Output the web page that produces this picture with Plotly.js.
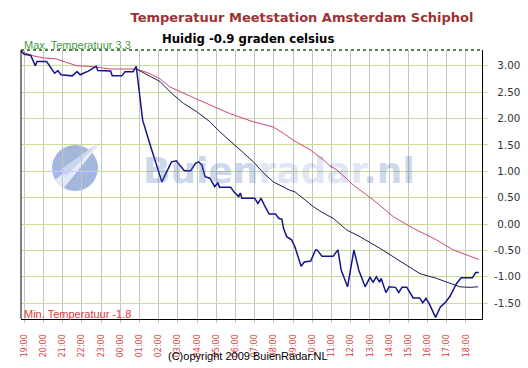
<!DOCTYPE html>
<html>
<head>
<meta charset="utf-8">
<script src="https://cdn.plot.ly/plotly-3.0.1.min.js"></script>
<style>
html,body{margin:0;padding:0;background:#fff;}
#chart{width:528px;height:368px;}
</style>
</head>
<body>
<div id="chart"></div>
<script>
// ---- data ----
const hourLabels = ["19:00","20:00","21:00","22:00","23:00","00:00","01:00","02:00","03:00","04:00","05:00","06:00",
                    "07:00","08:00","09:00","10:00","11:00","12:00","13:00","14:00","15:00","16:00","17:00","18:00"];
const yTickValues = [-1.5,-1.0,-0.5,0.0,0.5,1.0,1.5,2.0,2.5,3.0];

// measured temperature (jagged blue)
const tempTimes = ["18:50","19:00","19:20","19:35","19:40","20:10","20:35","20:45","20:55","21:30","21:45","21:55",
  "22:05","22:20","22:45","22:50","23:30","23:35","00:05","00:15","00:40","00:50","01:00","01:10","01:35","01:55",
  "02:10","02:25","02:40","02:55","03:20","03:40","03:55","04:05","04:15","04:25","04:40","04:55","05:05","05:10",
  "05:45","05:55","06:10","06:15","06:20","06:35","07:00","07:10","07:20","07:30","07:45","08:05","08:15","08:25",
  "08:30","08:40","08:55","09:05","09:15","09:25","09:35","09:55","10:10","10:15","10:30","11:05","11:20","11:30",
  "11:50","12:10","12:25","12:45","13:00","13:10","13:20","13:30","13:35","13:50","14:00","14:20","14:30","14:40",
  "14:55","15:15","15:35","15:45","15:55","16:05","16:25","16:40","16:55","17:10","17:20","17:30","17:45","18:20",
  "18:30","18:40"];
const tempValues = [3.28,3.22,3.20,3.00,3.08,3.08,2.86,2.91,2.83,2.81,2.89,2.83,
  2.86,2.90,2.99,2.91,2.90,2.81,2.81,2.89,2.89,2.99,2.48,1.97,1.47,1.09,
  0.80,0.99,1.18,1.20,1.01,1.01,1.15,1.18,1.12,0.90,0.87,0.71,0.78,0.70,
  0.70,0.61,0.52,0.59,0.49,0.49,0.49,0.39,0.49,0.36,0.19,0.19,0.11,0.09,
  -0.08,-0.24,-0.30,-0.42,-0.62,-0.80,-0.72,-0.70,-0.49,-0.49,-0.61,-0.61,-0.49,-0.87,
  -1.19,-0.49,-0.87,-1.19,-1.01,-1.10,-1.00,-1.10,-1.03,-1.30,-1.19,-1.20,-1.30,-1.20,
  -1.20,-1.40,-1.40,-1.49,-1.41,-1.51,-1.77,-1.57,-1.49,-1.37,-1.25,-1.13,-1.02,-1.02,
  -0.92,-0.92];

// smooth dark line
const smoothTimes = ["00:50","01:10","02:05","02:35","03:17","03:59","04:40","05:11","06:04","06:56","07:27","07:58",
  "08:50","09:06","10:03","10:23","10:55","11:05","11:47","12:29","13:31","14:55","15:36","16:28","17:10","17:41",
  "18:13","18:38"];
const smoothValues = [2.94,2.88,2.70,2.51,2.29,2.13,1.94,1.75,1.47,1.18,0.97,0.80,
  0.64,0.61,0.33,0.25,0.14,0.11,-0.11,-0.24,-0.46,-0.78,-0.94,-1.03,-1.13,-1.19,
  -1.20,-1.19];

// pink line
const pinkTimes = ["18:50","19:20","20:00","20:40","21:45","22:25","23:30","00:50","01:30","02:05","02:35","03:05",
  "03:40","04:40","05:40","06:55","07:58","08:30","09:00","09:53","10:34","10:55","11:16","12:08","13:10","14:13",
  "15:15","16:28","17:20","18:40"];
const pinkValues = [3.28,3.20,3.15,3.13,3.00,2.99,2.94,2.94,2.86,2.75,2.60,2.51,
  2.42,2.26,2.10,1.94,1.84,1.72,1.59,1.41,1.22,1.10,1.03,0.74,0.46,0.14,
  -0.08,-0.30,-0.49,-0.67];

const titleText = "Temperatuur Meetstation Amsterdam Schiphol";
const subTitleText = "Huidig -0.9 graden celsius";
const maxText = "Max. Temperatuur 3.3";
const minText = "Min. Temperatuur -1.8";
const copyrightText = "(C)opyright 2009 BuienRadar.NL";

// ---- helpers ----
function toHours(times){
  // hours since 19:00 of the first evening, rolling over midnight
  let out = [], off = 0, prev = -Infinity;
  times.forEach((t,i)=>{
    const p = t.split(":");
    let h = +p[0] + (+p[1])/60 - 19;
    if (i === 0 && h < -1) off = 24;
    h += off;
    if (h < prev) { off += 24; h += 24; }
    prev = h; out.push(h);
  });
  return out;
}
const tickVals = hourLabels.map((_,i)=>i);
const yTickText = yTickValues.map(v => (v<0 ? "-" : "\u00a0") + Math.abs(v).toFixed(2));

const traces = [
  {x: toHours(pinkTimes), y: pinkValues, type:"scatter", mode:"lines",
   line:{color:"#d2447a", width:1}, hoverinfo:"skip"},
  {x: toHours(smoothTimes), y: smoothValues, type:"scatter", mode:"lines",
   line:{color:"#1a1a55", width:1}, hoverinfo:"skip"},
  {x: toHours(tempTimes), y: tempValues, type:"scatter", mode:"lines",
   line:{color:"#14148c", width:1.5}, hoverinfo:"skip"}
];

// pixel helpers for layout decorations (plot area: x 21..482, y 50..319)
const PX = px => (px-21)/461, PY = py => (319-py)/269;

const layout = {
  width:528, height:368,
  margin:{l:21, r:46, t:50, b:49},
  paper_bgcolor:"#ffffff", plot_bgcolor:"#ffffff",
  showlegend:false,
  font:{family:"DejaVu Sans, Verdana, sans-serif"},
  title:{text:titleText, x:302/528, xanchor:"center", y:1-17.5/368, yanchor:"middle",
         font:{family:"DejaVu Sans", size:13, color:"#9e3232", weight:"bold"}},
  xaxis:{range:[-1/6, 23+5/6], tickvals:tickVals, ticktext:hourLabels, tickangle:-90,
         showgrid:true, gridcolor:"#c4c4c4", gridwidth:1, zeroline:false,
         showline:true, linecolor:"#000000", linewidth:1,
         ticks:"outside", ticklen:3, tickcolor:"#c4c4c4", ticklabelstandoff:8,
         tickfont:{family:"DejaVu Sans", size:8, color:"#e03c3c"}, fixedrange:true},
  yaxis:{side:"right", range:[-1.8,3.3], tickvals:yTickValues, ticktext:yTickText,
         showgrid:true, gridcolor:"#c9dc94", gridwidth:1, zeroline:false,
         showline:true, linecolor:"#000000", linewidth:1,
         ticks:"outside", ticklen:5, tickcolor:"#c9dc94", ticklabelstandoff:4,
         tickfont:{family:"DejaVu Sans", size:10.3, color:"#333333"}, fixedrange:true},
  shapes:[
    {type:"line", xref:"paper", yref:"paper", x0:0, x1:0, y0:0, y1:1, line:{color:"#000000", width:1}},
    {type:"line", xref:"paper", yref:"paper", x0:0, x1:1, y0:1, y1:1, line:{color:"#1f5a1f", width:1.5, dash:"dot"}},
    // watermark logo
    {type:"circle", xref:"paper", yref:"paper", layer:"between",
     x0:PX(52), x1:PX(98), y0:PY(191), y1:PY(145), fillcolor:"#a3b7dc", line:{width:0}},
    {type:"path", xref:"paper", yref:"paper", layer:"between",
     path:`M ${PX(55)} ${PY(180)} L ${PX(102)} ${PY(141)} L ${PX(63)} ${PY(189)} Z`,
     fillcolor:"#e4eaf5", line:{width:0}},
    {type:"path", xref:"paper", yref:"paper", layer:"between",
     path:`M ${PX(60)} ${PY(170)} L ${PX(98)} ${PY(143)} L ${PX(66)} ${PY(176)} Z`,
     fillcolor:"#c9d5ec", line:{width:0}}
  ],
  annotations:[
    {text:subTitleText, xref:"paper", yref:"paper", x:PX(247.5), y:PY(38.5), xanchor:"center", yanchor:"middle",
     showarrow:false, font:{family:"DejaVu Sans", size:11.7, color:"#000000", weight:"bold"}},
    {text:maxText, xref:"paper", yref:"paper", x:PX(22), y:PY(44.5), xanchor:"left", yanchor:"middle",
     showarrow:false, font:{family:"Liberation Sans, Arial", size:11, color:"#3f9a3f"}},
    {text:minText, xref:"paper", yref:"paper", x:PX(22), y:PY(313.5), xanchor:"left", yanchor:"middle",
     showarrow:false, font:{family:"Liberation Sans, Arial", size:11, color:"#e03a3a"}},
    {text:copyrightText, xref:"paper", yref:"paper", x:PX(248), y:PY(356), xanchor:"center", yanchor:"middle",
     showarrow:false, font:{family:"Liberation Sans, Arial", size:11, color:"#000000"}},
    {text:'<span style="color:rgba(60,100,180,0.55)">Buien</span><span style="color:rgba(60,100,180,0.36)">radar</span><span style="color:rgba(60,100,180,0.5)">.nl</span>',
     xref:"paper", yref:"paper", x:PX(279), y:PY(170), xanchor:"center", yanchor:"middle",
     showarrow:false, font:{family:"DejaVu Sans", size:36, weight:"bold", color:"rgba(60,100,180,0.5)"}}
  ]
};

Plotly.newPlot("chart", traces, layout, {staticPlot:true, displayModeBar:false});
</script>
</body>
</html>
